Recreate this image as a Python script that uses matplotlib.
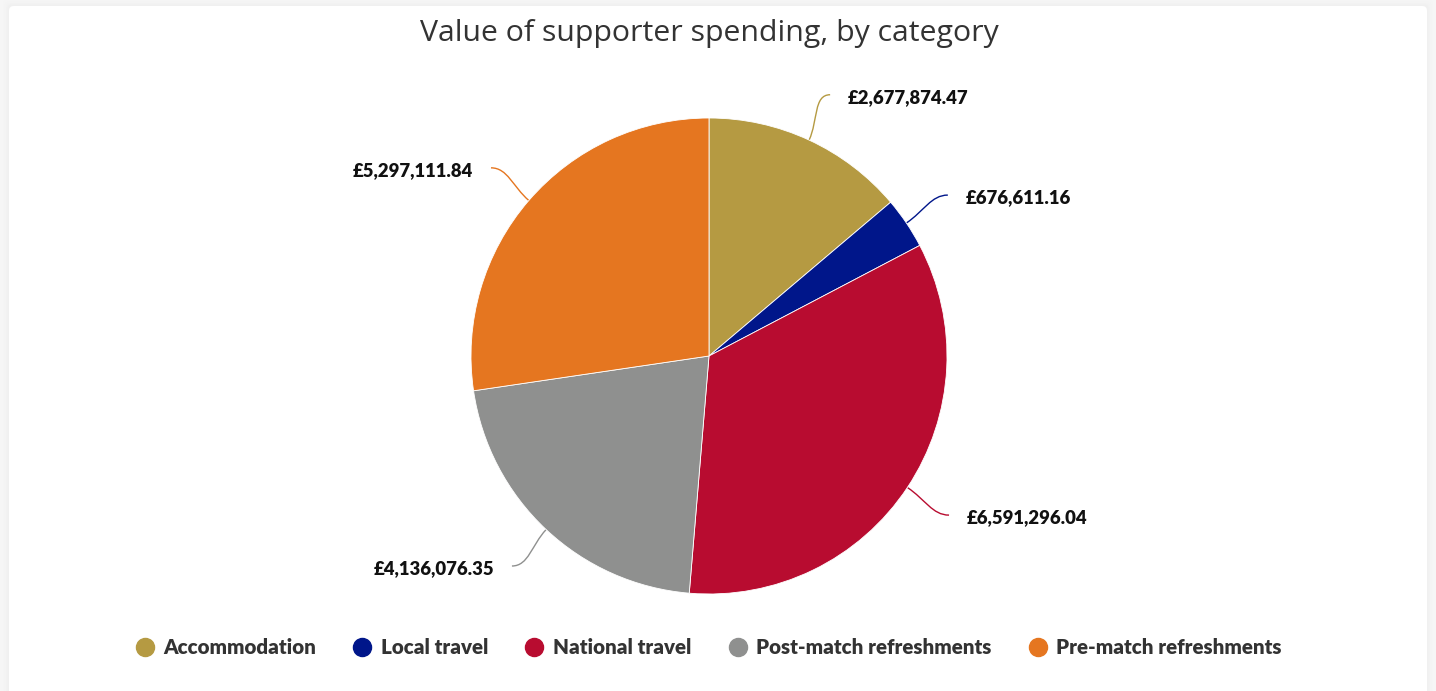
import numpy as np
import matplotlib.pyplot as plt
from matplotlib.patches import FancyBboxPatch, PathPatch
from matplotlib.path import Path
from matplotlib.lines import Line2D

categories = ["Accommodation", "Local travel", "National travel",
              "Post-match refreshments", "Pre-match refreshments"]
values = [2677874.47, 676611.16, 6591296.04, 4136076.35, 5297111.84]
colors = ["#B59A42", "#00168A", "#B80C30", "#8F908F", "#E57620"]
labels = ["£{:,.2f}".format(v) for v in values]

W, H = 1436, 691
CX, CY, R = 709, 356, 238

fig = plt.figure(figsize=(W / 100, H / 100), dpi=100)
fig.patch.set_facecolor("#F6F6F6")

ax = fig.add_axes([0, 0, 1, 1])

wedges, _ = ax.pie(values, colors=colors, startangle=90, counterclock=False,
                   radius=1, center=(0, 0),
                   wedgeprops=dict(linewidth=0.6, edgecolor="white"))
for w in wedges:
    w.set_zorder(2)

# axes in pixel-like units scaled so the pie has radius 1
ax.set_aspect("auto")
ax.set_xlim(-CX / R, (W - CX) / R)
ax.set_ylim((CY - H) / R, CY / R)
ax.axis("off")

# card with a soft shadow
for i, a in enumerate([0.025, 0.03, 0.04, 0.05]):
    g = (4 - i) * 1.5
    ax.add_patch(FancyBboxPatch(((9 - g - CX) / R, (CY - H - 20) / R),
                                (1418 + 2 * g) / R, (H + 14 + g) / R,
                                boxstyle="round,pad=0,rounding_size=0.02",
                                fc="#D8D8D8", ec="none", alpha=a, zorder=0))
ax.add_patch(FancyBboxPatch(((9 - CX) / R, (CY - H - 20) / R),
                            1418 / R, (H + 14) / R,
                            boxstyle="round,pad=0,rounding_size=0.02",
                            fc="white", ec="none", zorder=0.5))

# connectors and value labels
total = sum(values)
start = 0.0
for v, lab, col in zip(values, labels, colors):
    frac = v / total * 360
    mid = np.deg2rad(start + frac / 2)
    start += frac
    dx, dy = np.sin(mid), np.cos(mid)
    side = 1 if dx >= 0 else -1
    p0 = (dx, dy)
    p1 = (1.09 * dx, 1.09 * dy)
    p3 = (1.21 * dx, 1.21 * dy)
    p2 = (p3[0] - side * 0.07, p3[1])
    path = Path([p0, p1, p2, p3],
                [Path.MOVETO, Path.CURVE4, Path.CURVE4, Path.CURVE4])
    ax.add_patch(PathPatch(path, fc="none", ec=col, lw=1.0, zorder=1))
    ax.text(p3[0] + side * 0.075, p3[1] - 0.012, lab,
            ha="left" if side > 0 else "right", va="center",
            fontsize=13.3, fontweight="heavy", family="Lato", color="#111111")

ax.text(0, (CY - 34) / R, "Value of supporter spending, by category",
        ha="center", va="center", fontsize=21.8, family="Open Sans",
        fontweight="medium", color="#333333")

handles = [Line2D([], [], marker="o", linestyle="none", markersize=13,
                  markerfacecolor=c, markeredgecolor=c) for c in colors]
leg = fig.legend(handles, categories, loc="center",
                 bbox_to_anchor=(708 / W, 1 - 648 / H), ncol=5,
                 frameon=False, handlelength=1.0, handletextpad=0.4,
                 columnspacing=1.75,
                 prop=dict(family="Lato", weight="heavy", size=14.8))
for t in leg.get_texts():
    t.set_color("#333333")

fig.savefig("out.png", dpi=100)
